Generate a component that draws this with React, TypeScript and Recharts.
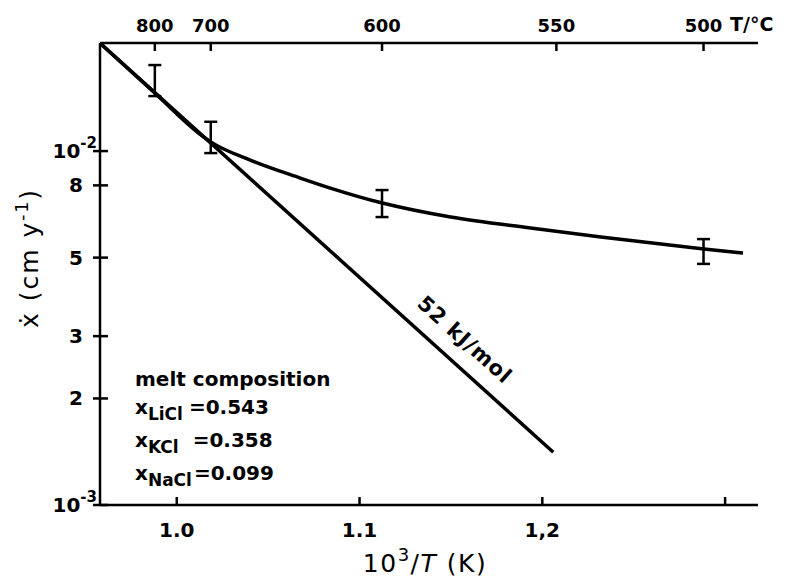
import React from 'react';
import { ComposedChart, Line, Scatter, ErrorBar, XAxis, YAxis } from 'recharts';

// 10^3/T positions and rate values (in units of 10^-3 cm/y)
const curveX = [0.958, 0.9881, 1.0112, 1.0188, 1.0402, 1.0676, 1.084, 1.1125, 1.1498, 1.1936, 1.232, 1.2884, 1.3098];
const curveY = [20.18, 14.58, 11.32, 10.6, 9.43, 8.39, 7.86, 7.13, 6.51, 6.06, 5.72, 5.29, 5.15];
const arrheniusX = [0.958, 1.206];
const arrheniusY = [20.18, 1.41];
const measX = [0.988, 1.0186, 1.1123, 1.2882];
const measY = [15.8, 10.9, 7.1, 5.2];
const measErrLow = [1.5, 1.03, 0.59, 0.4];
const measErrHigh = [1.7, 1.2, 0.66, 0.44];

const bottomTicks = [1.0, 1.1, 1.2, 1.3];
const bottomTickLabels = ['1.0', '1.1', '1,2', ''];
const topTicks = [0.988, 1.0186, 1.1123, 1.2077, 1.2882];
const topTickLabels = ['800', '700', '600', '550', '500'];
const yTicks = [1, 2, 3, 5, 8, 10];
const yTickBase = ['10', '2', '3', '5', '8', '10'];
const yTickExp = ['-3', '', '', '', '', '-2'];

const curveData = curveX.map((x, i) => ({ x, y: curveY[i] }));
const lineData = arrheniusX.map((x, i) => ({ x, y: arrheniusY[i] }));
const measData = measX.map((x, i) => ({ x, y: measY[i], err: [measErrLow[i], measErrHigh[i]] }));

const FONT = '"DejaVu Sans", sans-serif';

const YTick = (props: any) => {
  const { x, y, payload } = props;
  const i = yTicks.indexOf(payload.value);
  const exp = yTickExp[i];
  return (
    <g>
      <line x1={x - 7} x2={x + 8} y1={y} y2={y} stroke="#000" strokeWidth={2.5} />
      <text x={exp ? x - 3 : x - 17} y={y + 7} textAnchor="end" fontFamily={FONT} fontWeight="bold" fontSize={20} fill="#000">
        <tspan>{yTickBase[i]}</tspan>
        {exp ? <tspan dy={-10} fontSize={15}>{exp}</tspan> : null}
      </text>
    </g>
  );
};

const BottomTick = (props: any) => {
  const { x, y, payload } = props;
  const i = bottomTicks.indexOf(payload.value);
  return (
    <g>
      <line x1={x} x2={x} y1={y} y2={y - 8} stroke="#000" strokeWidth={2.5} />
      <text x={x} y={y + 32} textAnchor="middle" fontFamily={FONT} fontWeight="bold" fontSize={20} fill="#000">
        {bottomTickLabels[i]}
      </text>
    </g>
  );
};

const TopTick = (props: any) => {
  const { x, y, payload } = props;
  const i = topTicks.indexOf(payload.value);
  return (
    <g>
      <line x1={x} x2={x} y1={y} y2={y + 8} stroke="#000" strokeWidth={2.5} />
      <text x={x} y={y - 11} textAnchor="middle" fontFamily={FONT} fontWeight="bold" fontSize={18} fill="#000">
        {topTickLabels[i]}
      </text>
    </g>
  );
};

const axisLine = { stroke: '#000', strokeWidth: 2.5 };

export default function App() {
  return (
    <div style={{ position: 'absolute', left: 0, top: 0, width: 790, height: 579, background: '#fff' }}>
      <ComposedChart width={790} height={579} margin={{ top: 13, right: 32, bottom: 34, left: 40 }}>
        <XAxis
          xAxisId="b"
          dataKey="x"
          type="number"
          domain={[0.958, 1.318]}
          ticks={bottomTicks}
          interval={0}
          allowDataOverflow
          height={40}
          tickSize={0}
          tickMargin={0}
          tickLine={false}
          axisLine={axisLine}
          tick={(p: any) => <BottomTick {...p} />}
        />
        <XAxis
          xAxisId="t"
          orientation="top"
          dataKey="x"
          type="number"
          domain={[0.958, 1.318]}
          ticks={topTicks}
          interval={0}
          allowDataOverflow
          height={30}
          tickSize={0}
          tickMargin={0}
          tickLine={false}
          axisLine={axisLine}
          tick={(p: any) => <TopTick {...p} />}
        />
        <YAxis
          yAxisId="l"
          scale="log"
          type="number"
          domain={[1, 20.2]}
          ticks={yTicks}
          interval={0}
          allowDataOverflow
          width={60}
          tickSize={0}
          tickMargin={0}
          tickLine={false}
          axisLine={axisLine}
          tick={(p: any) => <YTick {...p} />}
        />
        <YAxis yAxisId="r" orientation="right" type="number" domain={[0, 1]} width={0} tick={false} tickLine={false} axisLine={axisLine} />
        <Line
          xAxisId="b"
          yAxisId="l"
          data={lineData}
          dataKey="y"
          type="linear"
          stroke="#000"
          strokeWidth={3.5}
          dot={false}
          activeDot={false}
          isAnimationActive={false}
        />
        <Line
          xAxisId="b"
          yAxisId="l"
          data={curveData}
          dataKey="y"
          type="monotone"
          stroke="#000"
          strokeWidth={3.5}
          dot={false}
          activeDot={false}
          isAnimationActive={false}
        />
        <Scatter
          xAxisId="b"
          yAxisId="l"
          data={measData}
          dataKey="y"
          shape={() => <g />}
          isAnimationActive={false}
        >
          <ErrorBar dataKey="err" direction="y" width={6.5} stroke="#000" strokeWidth={2.5} isAnimationActive={false} />
        </Scatter>
      </ComposedChart>
      <svg width={790} height={579} style={{ position: 'absolute', left: 0, top: 0, pointerEvents: 'none' }}>
        <g fontFamily={FONT} fill="#000">
          <text x={730} y={31} fontSize={19} fontWeight="bold">T/°C</text>
          <text x={425} y={572} textAnchor="middle" fontSize={25} letterSpacing={1.5}>
            <tspan>10</tspan>
            <tspan dy={-11} fontSize={18}>3</tspan>
            <tspan dy={11}>/</tspan>
            <tspan fontStyle="italic">T</tspan>
            <tspan> (K)</tspan>
          </text>
          <text transform="translate(38,258) rotate(-90)" textAnchor="middle" fontSize={25} letterSpacing={2}>
            <tspan>ẋ (cm y</tspan>
            <tspan dy={-10} fontSize={17}>-1</tspan>
            <tspan dy={10}>)</tspan>
          </text>
          <text transform="translate(460,345) rotate(42)" textAnchor="middle" fontSize={21} fontWeight="bold" letterSpacing={1}>52 kJ/mol</text>
          <g fontWeight="bold" fontSize={20}>
            <text x={135} y={386}>melt composition</text>
            <text x={135} y={414}>
              <tspan>x</tspan>
              <tspan dy={6} fontSize={17}>LiCl</tspan>
              <tspan dy={-6} dx={6}>=0.543</tspan>
            </text>
            <text x={135} y={447}>
              <tspan>x</tspan>
              <tspan dy={6} fontSize={17}>KCl</tspan>
              <tspan dy={-6} dx={14}>=0.358</tspan>
            </text>
            <text x={135} y={480}>
              <tspan>x</tspan>
              <tspan dy={6} fontSize={17}>NaCl</tspan>
              <tspan dy={-6} dx={2}>=0.099</tspan>
            </text>
          </g>
        </g>
      </svg>
    </div>
  );
}
